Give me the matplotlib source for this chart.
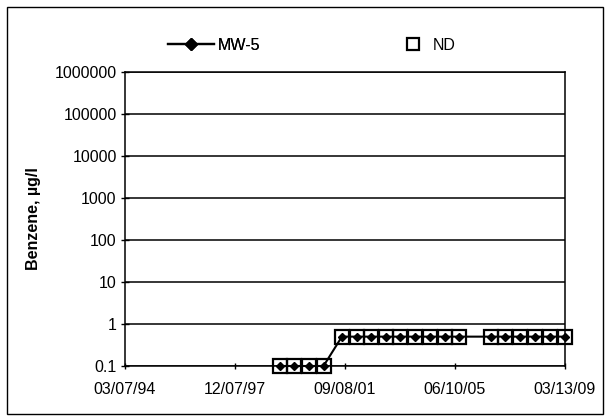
import matplotlib
matplotlib.use("Agg")
import matplotlib.pyplot as plt
import matplotlib.dates as mdates
from matplotlib.lines import Line2D
from matplotlib.patches import Rectangle
import pandas as pd

plt.rcParams['font.family'] = ['Liberation Sans', 'DejaVu Sans']

# ---- data ----
nd_dates = ["1999-06-15", "1999-12-15", "2000-06-15", "2000-12-15",
            "2001-08-01", "2002-02-01", "2002-08-01", "2003-02-01", "2003-08-01",
            "2004-02-01", "2004-08-01", "2005-02-01", "2005-08-01",
            "2006-09-01", "2007-03-01", "2007-09-01", "2008-03-01", "2008-09-01",
            "2009-03-13"]
nd_values = [0.1, 0.1, 0.1, 0.1,
             0.5, 0.5, 0.5, 0.5, 0.5, 0.5, 0.5, 0.5, 0.5,
             0.5, 0.5, 0.5, 0.5, 0.5, 0.5]
mw5_dates = nd_dates
mw5_values = nd_values
x_ticks = ["1994-03-07", "1997-12-07", "2001-09-08", "2005-06-10", "2009-03-13"]
y_ticks = [0.1, 1, 10, 100, 1000, 10000, 100000, 1000000]
y_label = "Benzene, µg/l"
series_name = "MW-5"
nd_name = "ND"

W, H = 608, 417
FS = 11.5
fig = plt.figure(figsize=(W / 100, H / 100), dpi=100)
ax = fig.add_axes([125 / W, 1 - 366 / H, 440 / W, 294 / H])

md = pd.to_datetime(mw5_dates)
nd = pd.to_datetime(nd_dates)
xt = pd.to_datetime(x_ticks)

ax.set_yscale('log')
ax.set_ylim(y_ticks[0], y_ticks[-1])
ax.set_xlim(xt[0], xt[-1])

for yv in y_ticks:
    ax.axhline(yv, color='black', lw=1.1, zorder=1)

ax.plot(md, mw5_values, color='black', lw=1.5, marker='D', markersize=4,
        markerfacecolor='black', markeredgecolor='black', zorder=3, clip_on=False)
ax.plot(nd, nd_values, linestyle='none', marker='s', markersize=10,
        markerfacecolor='none', markeredgecolor='black', markeredgewidth=1.6,
        zorder=4, clip_on=False)

ax.set_yticks(y_ticks)
ax.set_yticklabels([f"{v:g}" if v < 1 else f"{int(v)}" for v in y_ticks])
ax.yaxis.set_minor_locator(matplotlib.ticker.NullLocator())
ax.set_xticks(xt)
ax.xaxis.set_major_formatter(mdates.DateFormatter("%m/%d/%y"))

ax.tick_params(axis='y', direction='inout', length=6, width=1, labelsize=FS, pad=3)
ax.tick_params(axis='x', direction='inout', length=5, width=1, labelsize=FS, pad=9)

for s in ax.spines.values():
    s.set_color('black')
    s.set_linewidth(1.1)

ax.set_ylabel(y_label, fontsize=FS, fontweight='bold')
ax.yaxis.set_label_coords((41 - 125) / 440, 0.5)

h1 = Line2D([], [], color='black', lw=1.6, marker='D', markersize=6.5,
            markerfacecolor='black')
h2 = Line2D([], [], linestyle='none', marker='s', markersize=8,
            markerfacecolor='none', markeredgecolor='black', markeredgewidth=1.6)
leg1 = fig.legend(handles=[h1], labels=[series_name], loc='center left',
                  bbox_to_anchor=(168 / W, 1 - 45 / H), frameon=False,
                  borderpad=0, borderaxespad=0, handlelength=2.9,
                  handletextpad=0.2, fontsize=FS)
leg2 = fig.legend(handles=[h2], labels=[nd_name], loc='center left',
                  bbox_to_anchor=(406 / W, 1 - 45 / H), frameon=False,
                  borderpad=0, borderaxespad=0, handlelength=0.9,
                  handletextpad=0.8, fontsize=FS)
fig.add_artist(leg1)

fig.add_artist(Rectangle((7 / W, 1 - 414 / H), 596 / W, 407 / H,
                         transform=fig.transFigure, fill=False,
                         edgecolor='black', lw=1.0))

fig.savefig("out.png", dpi=100)
